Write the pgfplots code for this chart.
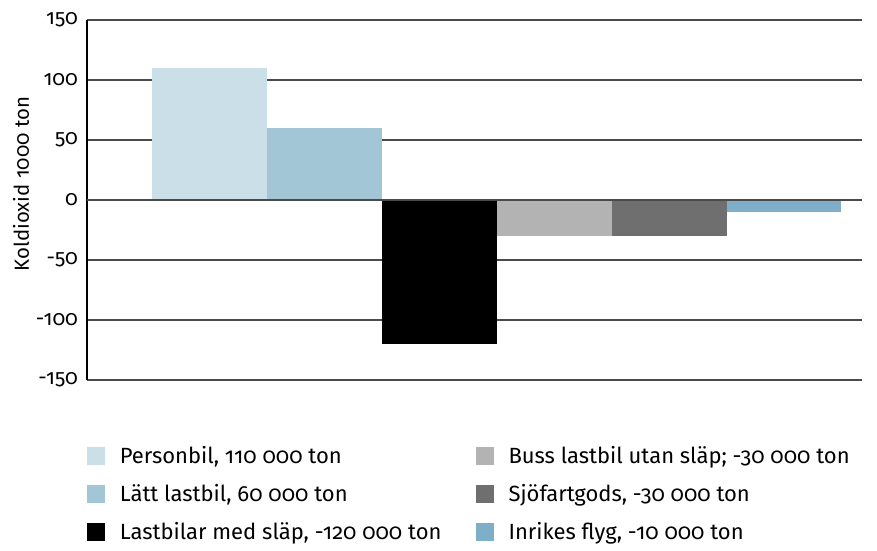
\documentclass[border=0pt]{standalone}
\usepackage{fontspec}
\setmainfont{Fira Sans}[Numbers=OldStyle]
\usepackage{pgfplots}
\pgfplotsset{compat=1.18}

\definecolor{cPerson}{HTML}{CBDFE8}
\definecolor{cLatt}{HTML}{A3C6D6}
\definecolor{cLast}{HTML}{000000}
\definecolor{cBuss}{HTML}{B3B3B3}
\definecolor{cSjo}{HTML}{6F6F6F}
\definecolor{cFlyg}{HTML}{7FAFC8}
\definecolor{gridc}{HTML}{4A4A4A}

\pgfplotsset{
  sq/.style={legend image code/.code={%
    \fill[##1] (0pt,-4.5pt) rectangle (9pt,4.5pt);
    \path (14.5pt,0pt);}},
}

\begin{document}
\begin{tikzpicture}
\begin{axis}[
    scale only axis,
    width=387.5pt, height=180pt,
    xmin=-1.07, xmax=5.68,
    ymin=-150, ymax=150,
    ytick={-150,-100,-50,0,50,100,150},
    yticklabels={-150,-100,-50,0,50,100,150},
    axis x line=none,
    axis y line=left,
    y axis line style={-, black, line width=0.6pt},
    major tick length=0pt,
    ymajorgrids,
    grid style={gridc, line width=0.7pt},
    yticklabel style={font=\fontsize{10.5}{12}\selectfont, xshift=-1pt},
    ylabel={Koldioxid 1000 ton},
    ylabel style={font=\fontsize{10.2}{12}\selectfont, yshift=-3.5pt, xshift=8pt},
    ybar, bar width=1,
    legend columns=2,
    legend cell align=left,
    legend style={at={(-0.0085,-0.16)}, anchor=north west, draw=none,
      font=\fontsize{11}{13}\selectfont, row sep=5pt,
      /tikz/every even column/.append style={column sep=15pt}},
]
\addplot[sq, fill=cPerson, draw=none, bar shift=0pt] coordinates {(0,110)};
\addlegendentry{Personbil, 110 000 ton}
\addplot[sq, fill=cBuss, draw=none, bar shift=0pt] coordinates {(3,-30)};
\addlegendentry{Buss lastbil utan släp; -30 000 ton}
\addplot[sq, fill=cLatt, draw=none, bar shift=0pt] coordinates {(1,60)};
\addlegendentry{Lätt lastbil, 60 000 ton}
\addplot[sq, fill=cSjo, draw=none, bar shift=0pt] coordinates {(4,-30)};
\addlegendentry{Sjöfartgods, -30 000 ton}
\addplot[sq, fill=cLast, draw=none, bar shift=0pt] coordinates {(2,-120)};
\addlegendentry{Lastbilar med släp, -120 000 ton}
\addplot[sq, fill=cFlyg, draw=none, bar shift=0pt] coordinates {(5,-10)};
\addlegendentry{Inrikes flyg, -10 000 ton}
\addplot[forget plot, sharp plot, gridc, line width=0.7pt, mark=none] coordinates {(-1.07,0) (5.68,0)};
\coordinate (r) at (rel axis cs:1,1);
\coordinate (l) at (rel axis cs:0,1);
\end{axis}
\path (r) ++(7.5pt,10pt);
\path (l) ++(-43.5pt,0pt);
\end{tikzpicture}
\end{document}
